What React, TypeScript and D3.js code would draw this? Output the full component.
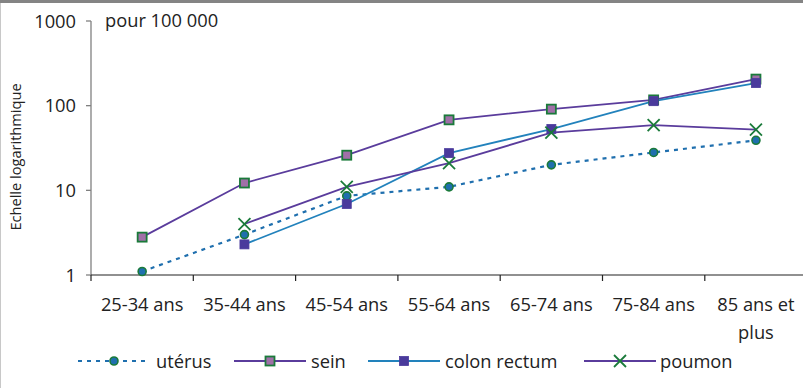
import React from "react";
import * as d3 from "d3";

const categories = ["25-34 ans", "35-44 ans", "45-54 ans", "55-64 ans", "65-74 ans", "75-84 ans", "85 ans et plus"];
const uterus: (number | null)[] = [1.1, 3.0, 8.6, 11, 20, 28, 39];
const sein: (number | null)[] = [2.8, 12.2, 26, 68, 91, 117, 206];
const colon: (number | null)[] = [null, 2.3, 6.9, 27.5, 53, 113, 185];
const poumon: (number | null)[] = [null, 4.0, 11, 21, 48, 59, 52];
const yTicks = [1, 10, 100, 1000];

const W = 803, H = 388;
const FONT = "'Open Sans', 'Noto Sans', sans-serif";
const FS = 18.3;

const series = [
  { name: "utérus", data: uterus, line: "#1f6fae", dash: "4 5", width: 2.2, marker: "circle", fill: "#1f6fae", stroke: "#1a7a3a" },
  { name: "sein", data: sein, line: "#5a3c9c", dash: null, width: 1.8, marker: "square", fill: "#a070a8", stroke: "#1a7a3a" },
  { name: "colon rectum", data: colon, line: "#2282bc", dash: null, width: 1.8, marker: "squareFilled", fill: "#4a3a9c", stroke: "#4a3a9c" },
  { name: "poumon", data: poumon, line: "#5a3c9c", dash: null, width: 1.8, marker: "x", fill: "none", stroke: "#1a7a3a" },
];

function Marker({ type, x, y, fill, stroke }: any) {
  if (type === "circle") return <circle cx={x} cy={y} r={4} fill={fill} stroke={stroke} strokeWidth={1.6} />;
  if (type === "square") return <rect x={x - 4.5} y={y - 4.5} width={9} height={9} fill={fill} stroke={stroke} strokeWidth={1.8} />;
  if (type === "squareFilled") return <rect x={x - 4.5} y={y - 4.5} width={9} height={9} fill={fill} stroke={stroke} strokeWidth={0.8} />;
  return (
    <g stroke={stroke} strokeWidth={1.8}>
      <line x1={x - 6} y1={y - 6} x2={x + 6} y2={y + 6} />
      <line x1={x - 6} y1={y + 6} x2={x + 6} y2={y - 6} />
    </g>
  );
}

export default function App() {
  const x0 = 91;
  const step = 102.3;
  const x = d3.scaleBand<string>().domain(categories).range([x0, x0 + step * categories.length]).padding(0);
  const y = d3.scaleLog().domain([1, 1000]).range([275, 21]);
  const cx = (c: string) => (x(c) as number) + x.bandwidth() / 2;

  const legendItems = [
    { s: series[0], lx: 78, tx: 156 },
    { s: series[1], lx: 234, tx: 311 },
    { s: series[2], lx: 368, tx: 445 },
    { s: series[3], lx: 584, tx: 660 },
  ];

  return (
    <svg width={W} height={H} style={{ position: "absolute", left: 0, top: 0, background: "#fff" }} fontFamily={FONT}>
      <rect x={0} y={0} width={W} height={H} fill="#fff" />
      <rect x={0} y={0} width={W} height={3} fill="#848484" />
      <line x1={0.5} y1={3} x2={0.5} y2={H} stroke="#c8c8c8" strokeWidth={1} />

      {/* y axis */}
      <line x1={x0} y1={21} x2={x0} y2={275} stroke="#808080" strokeWidth={1.3} />
      {yTicks.map((t) => (
        <g key={t}>
          <line x1={x0 - 5} y1={y(t)} x2={x0} y2={y(t)} stroke="#808080" strokeWidth={1.3} />
          <text x={x0 - 15} y={y(t)} dy="0.36em" textAnchor="end" fontSize={FS} fill="#222">{t}</text>
        </g>
      ))}
      <text x={105} y={27} fontSize={FS} fill="#222">pour 100 000</text>
      <text transform={`translate(16,${157}) rotate(-90)`} textAnchor="middle" fontSize={14.6} fill="#222" dy="0.35em">Echelle logarithmique</text>

      {/* x axis */}
      <line x1={x0} y1={275} x2={W} y2={275} stroke="#222" strokeWidth={1.2} />
      {categories.map((c) => (
        <line key={c} x1={x(c) as number} y1={275} x2={x(c) as number} y2={281} stroke="#222" strokeWidth={1.2} />
      ))}
      {categories.map((c) => {
        const cxv = cx(c);
        if (c === "85 ans et plus") {
          return (
            <text key={c} textAnchor="middle" fontSize={FS} fill="#222">
              <tspan x={cxv} y={311}>85 ans et</tspan>
              <tspan x={cxv} y={339}>plus</tspan>
            </text>
          );
        }
        return <text key={c} x={cxv} y={311} textAnchor="middle" fontSize={FS} fill="#222">{c}</text>;
      })}

      {/* series */}
      {series.map((s) => {
        const pts = categories.map((c, i) => ({ c, v: s.data[i] })).filter((p) => p.v != null) as { c: string; v: number }[];
        const line = d3.line<{ c: string; v: number }>().x((p) => cx(p.c)).y((p) => y(p.v));
        return (
          <g key={s.name}>
            <path d={line(pts) || ""} fill="none" stroke={s.line} strokeWidth={s.width} strokeDasharray={s.dash || undefined} />
          </g>
        );
      })}
      {series.map((s) => {
        const pts = categories.map((c, i) => ({ c, v: s.data[i] })).filter((p) => p.v != null) as { c: string; v: number }[];
        return (
          <g key={s.name + "m"}>
            {pts.map((p) => (
              <Marker key={p.c} type={s.marker} x={cx(p.c)} y={y(p.v)} fill={s.fill} stroke={s.stroke} />
            ))}
          </g>
        );
      })}

      {/* legend */}
      {legendItems.map(({ s, lx, tx }) => (
        <g key={s.name}>
          <line x1={lx} y1={361} x2={lx + 72} y2={361} stroke={s.line} strokeWidth={s.width} strokeDasharray={s.dash || undefined} />
          <Marker type={s.marker} x={lx + 36} y={361} fill={s.fill} stroke={s.stroke} />
          <text x={tx} y={361} dy="0.36em" fontSize={FS} fill="#222">{s.name}</text>
        </g>
      ))}
    </svg>
  );
}
